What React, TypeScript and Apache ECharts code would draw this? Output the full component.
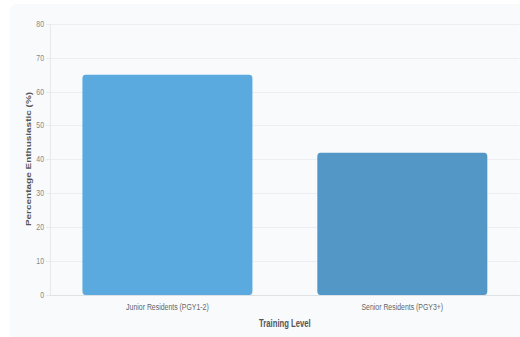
import React, { useEffect, useRef } from "react";
import * as echarts from "echarts";

const categories = ["Junior Residents (PGY1-2)", "Senior Residents (PGY3+)"];
const values = [65, 42];
const barColors = ["#5aaae0", "#5297c6"];
const yAxisTitle = "Percentage Enthusiastic (%)";
const xAxisTitle = "Training Level";

// the reference looks horizontally compressed; render wider and squeeze
const S = 0.77;
const W = 520;
const H = 337;
const px = (v: number) => v / S;

export default function App() {
  const ref = useRef<HTMLDivElement>(null);
  useEffect(() => {
    if (!ref.current) return;
    const chart = echarts.init(ref.current, null, { renderer: "svg" });
    chart.setOption({
      animation: false,
      textStyle: { fontFamily: "'Liberation Sans', Arial, sans-serif" },
      graphic: [
        {
          type: "rect",
          z: -10,
          silent: true,
          shape: { x: px(10), y: 4, width: px(540), height: 340, r: 8 },
          style: { fill: "#f8fafc" },
        },
        {
          type: "text",
          x: px(28.5),
          y: 159,
          rotation: Math.PI / 2,
          style: {
            text: yAxisTitle,
            fontSize: 10,
            fontWeight: "bold",
            fill: "#555",
            align: "center",
            verticalAlign: "middle",
          },
        },
      ],
      grid: { left: px(50), top: 24, width: px(474), height: 271, containLabel: false },
      xAxis: {
        type: "category",
        data: categories,
        name: xAxisTitle,
        nameLocation: "middle",
        nameGap: 24,
        nameTextStyle: { fontSize: 10, fontWeight: "bold", color: "#555" },
        axisLine: { show: true, lineStyle: { color: "#dcdfe3" } },
        axisTick: { show: false },
        axisLabel: { fontSize: 9, color: "#666", margin: 8 },
      },
      yAxis: {
        type: "value",
        min: 0,
        max: 80,
        interval: 10,
        axisLine: { show: true, lineStyle: { color: "#e4e7eb" } },
        axisTick: { show: true, length: px(4), lineStyle: { color: "#e4e7eb" } },
        axisLabel: { fontSize: 9, color: "#888", margin: px(6) },
        splitLine: { lineStyle: { color: "#e8ecf0" } },
      },
      series: [
        {
          type: "bar",
          barWidth: px(170),
          data: values.map((v, i) => ({
            value: v,
            itemStyle: { color: barColors[i], borderRadius: 4 },
          })),
        },
      ],
    });
    return () => chart.dispose();
  }, []);
  return (
    <div
      style={{ position: "fixed", left: 0, top: 0, width: W, height: H, overflow: "hidden", background: "#ffffff" }}
    >
      <div
        ref={ref}
        style={{ width: px(W), height: H, transform: `scaleX(${S})`, transformOrigin: "0 0" }}
      />
    </div>
  );
}
